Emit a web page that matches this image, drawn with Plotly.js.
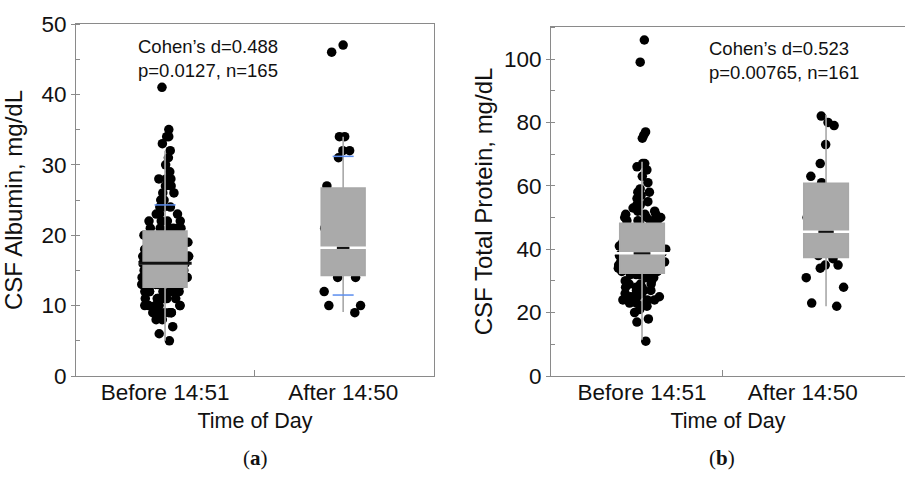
<!DOCTYPE html>
<html>
<head>
<meta charset="utf-8">
<script src="https://cdn.plot.ly/plotly-3.0.1.min.js"></script>
<style>html,body{margin:0;padding:0;background:#fff;}#chart{width:905px;height:477px;}</style>
</head>
<body>
<div id="chart"></div>
<script>
// ---------- DATA ----------
const groupLabels = ['Before 14:51', 'After 14:50'];

// Panel (a): CSF Albumin, mg/dL
const albuminBefore = [41, 35, 34, 34, 33, 32, 31, 30, 29, 28, 28, 28, 27, 27, 26, 26, 25, 25, 24, 24, 24, 23, 23, 23, 22, 22, 22, 22, 21, 21, 21, 21, 21, 21,
  20, 20, 20, 20, 20, 20, 19, 19, 19, 19, 19, 19, 19, 18, 18, 18, 18, 18, 18, 18, 18, 17, 17, 17, 17, 17, 17, 17, 17, 16, 16, 16, 16, 16, 16,
  16, 16, 16, 15, 15, 15, 15, 15, 15, 15, 15, 15, 14, 14, 14, 14, 14, 14, 14, 14, 14, 14, 13, 13, 13, 13, 13, 13, 13, 13, 13, 13,
  12, 12, 12, 12, 12, 12, 12, 12, 11, 11, 11, 11, 11, 11, 11, 11, 10, 10, 10, 10, 10, 10, 10, 9, 9, 9, 9, 9, 9, 8, 8, 7, 6, 5];
const albuminAfter = [47, 46, 34, 34, 32, 32, 31, 27, 26, 25, 23, 21, 20, 19, 18, 18, 17, 16, 15, 14, 14, 12, 10, 10, 9];
// box statistics: [before, after]
const albQ1 = [12.6, 14.3];
const albMedian = [16.0, 18.2];
const albQ3 = [20.6, 26.7];
const albLowerFence = [5.0, 9.1];
const albUpperFence = [32.0, 34.0];
const albQuantileMarks = [[24.3], [31.2, 11.5]];

// Panel (b): CSF Total Protein, mg/dL
const proteinBefore = [106, 99, 77, 76, 75, 67, 67, 66, 65, 63, 61, 59, 58, 58, 57, 56, 55, 54, 54, 53, 52, 52, 51, 51, 51, 50, 50, 50, 49, 49, 49, 49,
  48, 48, 47, 47, 46, 46, 45, 45, 45, 44, 44, 44, 43, 43, 43, 42, 42, 42, 42, 41, 41, 41, 41, 40, 40, 40, 40, 39, 39, 39, 39, 39,
  38, 38, 38, 38, 38, 37, 37, 37, 37, 37, 36, 36, 36, 36, 36, 35, 35, 35, 35, 35, 34, 34, 34, 34, 34, 33, 33, 33, 33, 33, 32, 32, 32, 32,
  31, 31, 30, 30, 30, 29, 29, 29, 28, 28, 28, 27, 27, 27, 26, 26, 26, 25, 25, 25, 24, 24, 24, 24, 23, 23, 23, 22, 22, 21, 20, 18, 17, 11];
const proteinAfter = [82, 80, 79, 73, 67, 63, 61, 58, 55, 50, 47, 45, 43, 40, 38, 37, 35, 35, 34, 31, 28, 23, 22];
const protQ1 = [32.4, 37.4];
const protMedian = [38.7, 45.5];
const protQ3 = [48.2, 60.8];
const protLowerFence = [11.4, 22.0];
const protUpperFence = [67.6, 82.3];

const annotA = "Cohen’s d=0.488<br>p=0.0127, n=165";
const annotB = "Cohen’s d=0.523<br>p=0.00765, n=161";

// ---------- STYLE ----------
const FONT = 'Liberation Sans, Arial, sans-serif';
const AXIS_COLOR = '#8a8a8a';
const BOX_FILL = '#aaaaaa';
const BOX_LINE = '#a8a8a8';

function panelTraces(xa, ya, groups, q1, med, q3, lf, uf, boxW, medPx, blackPx, blackW, marks) {
  const traces = [];
  groups.forEach((vals, i) => {
    traces.push({
      type: 'box', xaxis: xa, yaxis: ya, x0: i, y: vals,
      boxpoints: 'all', jitter: 1, pointpos: 0, width: boxW * 1.08,
      fillcolor: 'rgba(0,0,0,0)', line: {width: 0, color: 'rgba(0,0,0,0)'},
      marker: {color: '#000', size: 9.5}, showlegend: false, hoverinfo: 'y'
    });
  });
  traces.push({
    type: 'box', xaxis: xa, yaxis: ya, x: groups.map((g, i) => i),
    q1: q1, median: med, q3: q3, lowerfence: lf, upperfence: uf,
    boxpoints: false, width: boxW, whiskerwidth: 0,
    fillcolor: BOX_FILL, line: {color: BOX_LINE, width: 1.6}, showlegend: false
  });
  if (marks) {
    const mx = [], my = [];
    marks.forEach((arr, i) => arr.forEach(v => { mx.push(i); my.push(v); }));
    traces.push({
      type: 'scatter', mode: 'markers', xaxis: xa, yaxis: ya, x: mx, y: my,
      marker: {symbol: 'line-ew', size: 15, line: {color: '#5b8def', width: 1.5}},
      showlegend: false, hoverinfo: 'skip'
    });
  }
  traces.push({
    type: 'scatter', mode: 'markers', xaxis: xa, yaxis: ya,
    x: groups.map((g, i) => i), y: med,
    marker: {symbol: 'line-ew', size: medPx, line: {color: '#ffffff', width: 2.5}},
    showlegend: false, hoverinfo: 'skip'
  });
  groups.forEach((g, i) => {
    traces.push({
      type: 'scatter', mode: 'markers', xaxis: xa, yaxis: ya,
      x: [i], y: [med[i]],
      marker: {symbol: 'line-ew', size: blackPx[i], line: {color: '#111111', width: blackW[i]}},
      showlegend: false, hoverinfo: 'skip'
    });
  });
  return traces;
}

const data = [].concat(
  panelTraces('x', 'y', [albuminBefore, albuminAfter], albQ1, albMedian, albQ3, albLowerFence, albUpperFence, 0.246, 44, [38, 9], [3, 2.2], albQuantileMarks),
  panelTraces('x2', 'y2', [proteinBefore, proteinAfter], protQ1, protMedian, protQ3, protLowerFence, protUpperFence, 0.242, 44, [12, 11], [2.2, 2.2], null)
);

function xAxis(anchor, domain, range, tickvals, divider) {
  return {
    anchor: anchor,
    domain: domain, range: range, showline: true, linecolor: AXIS_COLOR, linewidth: 1,
    mirror: true, showgrid: false, zeroline: false,
    tickmode: 'array', tickvals: tickvals, ticktext: groupLabels, ticks: '',
    ticklabelstandoff: -4,
    tickfont: {family: FONT, size: 22.5, color: '#111'},
    minor: {tickmode: 'array', tickvals: [divider], ticks: 'inside', ticklen: 6, tickcolor: AXIS_COLOR, tickwidth: 1, showgrid: false},
    title: {text: 'Time of Day', font: {family: FONT, size: 21.5, color: '#111'}, standoff: 8}
  };
}
function yAxis(anchor, domain, range, dtick, mirror, title, standoff) {
  return {
    anchor: anchor,
    domain: domain, range: range, showline: true, linecolor: AXIS_COLOR, linewidth: 1,
    mirror: mirror, showgrid: false, zeroline: false,
    dtick: dtick, ticks: 'outside', ticklen: 4, tickcolor: AXIS_COLOR, tickwidth: 1,
    tickfont: {family: FONT, size: 22.5, color: '#111'},
    minor: {dtick: dtick / 2, ticks: 'inside', ticklen: 4, tickcolor: AXIS_COLOR, tickwidth: 1, showgrid: false},
    title: {text: title, font: {family: FONT, size: 24, color: '#111'}, standoff: standoff}
  };
}

const yDom = [101 / 477, 453 / 477];
const yDom2 = [101 / 477, 450 / 477];

const layout = {
  width: 905, height: 477,
  margin: {l: 0, r: 0, t: 0, b: 0},
  paper_bgcolor: '#fff', plot_bgcolor: '#fff',
  boxmode: 'overlay', showlegend: false,
  font: {family: FONT, color: '#111'},
  xaxis: xAxis('y', [76 / 905, 434 / 905], [-0.5, 1.51], [0, 1], 0.5),
  yaxis: yAxis('x', yDom, [0, 50], 10, true, 'CSF Albumin, mg/dL', 12),
  xaxis2: xAxis('y2', [551 / 905, 1], [-0.4946, 1.429], [0, 0.873], 0.435),
  yaxis2: yAxis('x2', yDom2, [0, 110.1], 20, false, 'CSF Total Protein, mg/dL', 4),
  annotations: [
    {xref: 'paper', yref: 'paper', x: 136 / 905, y: (477 - 34) / 477, xanchor: 'left', yanchor: 'top', align: 'left',
     text: annotA, showarrow: false, font: {family: FONT, size: 18.5, color: '#111'}},
    {xref: 'paper', yref: 'paper', x: 707 / 905, y: (477 - 36) / 477, xanchor: 'left', yanchor: 'top', align: 'left',
     text: annotB, showarrow: false, font: {family: FONT, size: 18.5, color: '#111'}},
    {xref: 'paper', yref: 'paper', x: 255 / 905, y: (477 - 458) / 477, xanchor: 'center', yanchor: 'middle',
     text: '(<b>a</b>)', showarrow: false, font: {family: 'Liberation Serif, serif', size: 21, color: '#111'}},
    {xref: 'paper', yref: 'paper', x: 722 / 905, y: (477 - 458) / 477, xanchor: 'center', yanchor: 'middle',
     text: '(<b>b</b>)', showarrow: false, font: {family: 'Liberation Serif, serif', size: 21, color: '#111'}}
  ]
};

Plotly.newPlot('chart', data, layout, {staticPlot: true, displayModeBar: false});
</script>
</body>
</html>
